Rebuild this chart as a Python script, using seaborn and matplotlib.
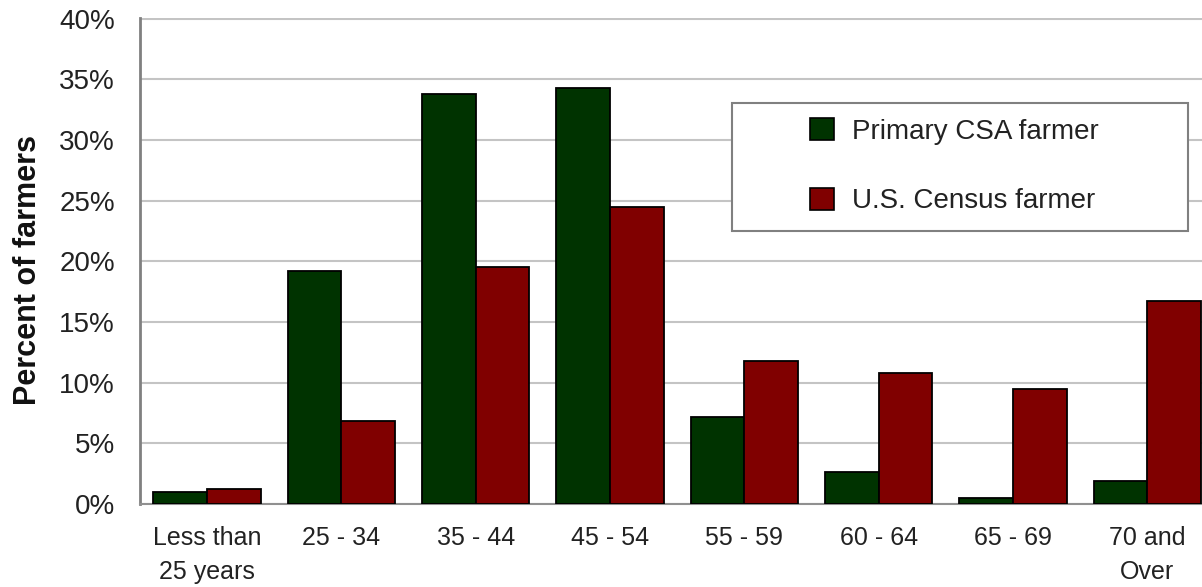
import matplotlib
matplotlib.use("Agg")
import matplotlib.pyplot as plt
import seaborn as sns
import pandas as pd
from matplotlib.patches import Rectangle, Patch
from matplotlib.ticker import FixedLocator

categories = ["Less than\n25 years", "25 - 34", "35 - 44", "45 - 54",
              "55 - 59", "60 - 64", "65 - 69", "70 and\nOver"]
series_names = ["Primary CSA farmer", "U.S. Census farmer"]
csa_values = [1.0, 19.2, 33.8, 34.3, 7.2, 2.6, 0.5, 1.9]
census_values = [1.2, 6.8, 19.5, 24.5, 11.8, 10.8, 9.5, 16.7]
ytick_values = [0, 5, 10, 15, 20, 25, 30, 35, 40]
ytick_labels = [f"{v}%" for v in ytick_values]
colors = ["#003300", "#800000"]

df = pd.DataFrame({
    "age": categories * 2,
    "series": [series_names[0]] * len(categories) + [series_names[1]] * len(categories),
    "value": csa_values + census_values,
})

sns.set_style("white")
plt.rcParams["font.family"] = ["Liberation Sans", "DejaVu Sans"]

fig = plt.figure(figsize=(12.02, 5.87), dpi=100)
ax = fig.add_axes([140 / 1202, 83 / 587, 1074.4 / 1202, 486 / 587])

sns.barplot(data=df, x="age", y="value", hue="series", order=categories,
            hue_order=series_names, palette=colors, saturation=1, width=0.8,
            edgecolor="black", linewidth=1.3, ax=ax, legend=False, zorder=3)

ax.set_xlim(-0.5, len(categories) - 0.5)
ax.set_ylim(0, 40.05)
ax.set_yticks(ytick_values)
ax.set_yticklabels(ytick_labels)
ax.set_xticks(range(len(categories)))
ax.set_xticklabels(categories)
ax.xaxis.set_minor_locator(FixedLocator([i + 0.5 for i in range(-1, len(categories))]))
ax.tick_params(axis="x", which="major", length=0, pad=16, labelsize=18, colors="#222222")
ax.tick_params(axis="x", which="minor", length=6, width=1.3, color="#707070", direction="out")
ax.tick_params(axis="y", which="major", length=7, width=1.3, color="#707070",
               direction="out", pad=11, labelsize=20, labelcolor="#222222")
for lbl in ax.get_xticklabels():
    lbl.set_linespacing(1.5)

ax.set_xlabel("")
ax.set_ylabel("")
ax.yaxis.grid(True, color="#c4c4c4", linewidth=1.5, zorder=0)
ax.set_axisbelow(True)
for side in ["top", "right"]:
    ax.spines[side].set_visible(False)
ax.spines["left"].set_color("#808080")
ax.spines["left"].set_linewidth(2)
ax.spines["bottom"].set_color("#909090")
ax.spines["bottom"].set_linewidth(1.5)

fig.text(28 / 1202, 1 - 270 / 587, "Percent of farmers", rotation=90,
         ha="center", va="center", fontsize=22, fontweight="bold", color="#111111")

# legend box
box = Rectangle(((732 - 140) / 1074.4, (504 - 231) / 486), (1188 - 732) / 1074.4, 128 / 486,
                transform=ax.transAxes, facecolor="white", edgecolor="#808080",
                linewidth=1.5, zorder=5)
ax.add_patch(box)
handles = [Patch(facecolor=c, edgecolor="black", linewidth=1.2) for c in colors]
leg = ax.legend(handles, series_names, loc="upper left",
                bbox_to_anchor=((810 - 140) / 1074.4, (504 - 118) / 486),
                frameon=False, fontsize=20, handlelength=0.85, handleheight=0.85,
                handletextpad=0.65, labelspacing=1.55, borderpad=0, borderaxespad=0)
leg.set_zorder(6)
for t in leg.get_texts():
    t.set_color("#222222")

fig.savefig("out.png", dpi=100)
